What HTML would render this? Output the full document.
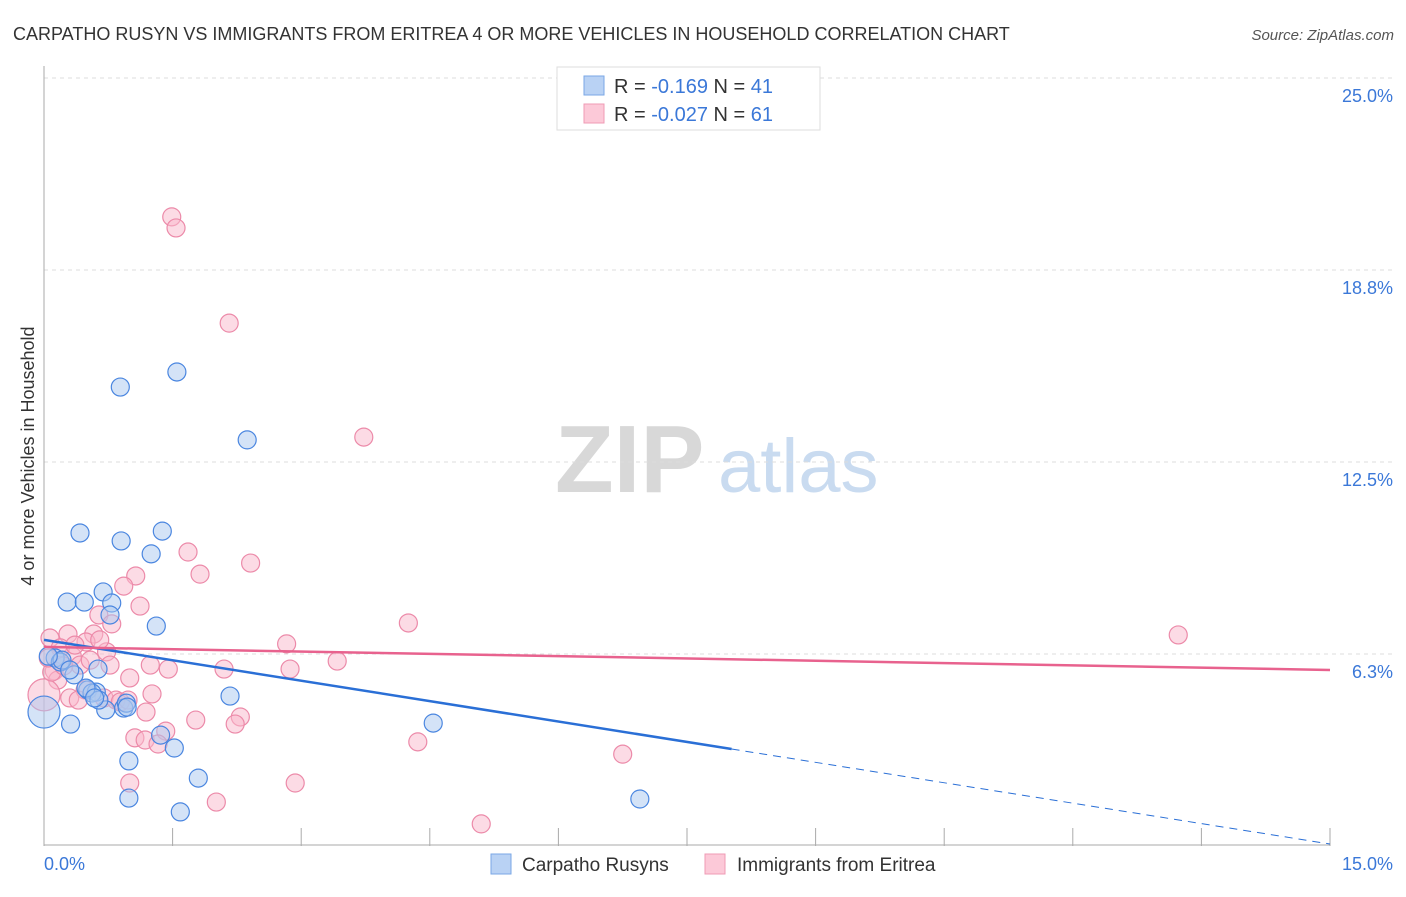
<!DOCTYPE html>
<html><head><meta charset="utf-8">
<style>
body{margin:0;background:#fff;font-family:"Liberation Sans",sans-serif;}
svg text{font-family:"Liberation Sans",sans-serif;}
</style></head>
<body>
<svg id="chart" width="1406" height="892" viewBox="0 0 1406 892" xmlns="http://www.w3.org/2000/svg">
<text x="13" y="40" font-size="18" fill="#333">CARPATHO RUSYN VS IMMIGRANTS FROM ERITREA 4 OR MORE VEHICLES IN HOUSEHOLD CORRELATION CHART</text>
<text x="1394" y="40" font-size="15" fill="#555" text-anchor="end" font-style="italic">Source: ZipAtlas.com</text>
<g>
<text x="555" y="492" font-size="96" fill="#d8d8d8" font-family="Liberation Serif" font-weight="bold">ZIP</text>
<text x="718" y="492" font-size="76" fill="#c9dbf0">atlas</text>
</g>
<g id="grid"></g>
<g id="axes"></g>
<g id="marks"></g>
<text transform="translate(34,456) rotate(-90)" font-size="18" fill="#333" text-anchor="middle">4 or more Vehicles in Household</text>
<g>
<rect x="557" y="67" width="263" height="63" fill="#fff" stroke="#ddd"/>
<rect x="584" y="76" width="20" height="19" fill="#b9d2f4" stroke="#7aa7e6"/>
<rect x="584" y="104" width="20" height="19" fill="#fcc9d8" stroke="#ef9bb5"/>
<text x="614" y="93" font-size="20" fill="#333">R = <tspan fill="#3b78d8">-0.169</tspan>   N = <tspan fill="#3b78d8">41</tspan></text>
<text x="614" y="121" font-size="20" fill="#333">R = <tspan fill="#3b78d8">-0.027</tspan>   N = <tspan fill="#3b78d8">61</tspan></text>
</g>
<g>
<rect x="491" y="854" width="20" height="20" fill="#b9d2f4" stroke="#7aa7e6"/>
<text x="522" y="871" font-size="19" fill="#333">Carpatho Rusyns</text>
<rect x="705" y="854" width="20" height="20" fill="#fcc9d8" stroke="#ef9bb5"/>
<text x="737" y="871" font-size="19" fill="#333">Immigrants from Eritrea</text>
</g>
</svg>
<script>
const blueX=[0,0.13,0.19,0.27,0.47,0.42,0.31,0.35,0.51,0.61,0.63,0.69,0.72,0.79,0.77,0.89,0.90,0.93,0.96,0.99,0.99,1.25,1.31,1.38,1.36,1.52,1.55,1.59,1.80,2.17,2.37,4.54,6.95,0.56,0.21,0.64,0.49,0.05,0.30,0.59,0.97];
const blueY=[4.36,6.12,5.99,7.94,7.94,10.19,3.97,5.57,5.08,5.01,5.76,8.27,4.43,7.91,7.52,14.94,9.93,4.49,4.65,2.77,1.56,9.51,7.16,10.25,3.61,3.19,15.43,1.11,2.21,4.88,13.22,4.00,1.53,4.98,6.05,4.75,5.14,6.18,5.73,4.82,4.52];
const pinkX=[1.49,1.54,2.16,3.73,13.23,4.25,2.83,3.42,2.87,2.41,1.68,1.82,1.07,0.93,1.12,0.64,0.79,0.58,0.28,0.07,0.49,0.73,0.33,0.42,0.12,0.16,1.00,1.24,1.45,2.10,1.26,0.30,0.70,0.84,0.89,1.19,1.77,2.29,2.23,1.42,1.06,1.18,1.33,4.36,6.75,1.00,2.93,2.01,5.10,0,0.09,0.19,0.54,0.36,0.23,0.77,0.48,0.05,0.98,0.40,0.65];
const pinkY=[20.48,20.12,17.02,13.31,6.87,7.26,6.58,6.02,5.76,9.21,9.57,8.85,8.79,8.46,7.81,7.52,7.23,6.90,6.90,6.77,6.64,6.32,6.18,5.89,5.70,5.40,5.47,5.89,5.76,5.76,4.95,4.82,4.82,4.75,4.69,4.36,4.10,4.20,3.97,3.74,3.52,3.45,3.32,3.39,2.99,2.05,2.05,1.43,0.72,4.92,5.66,6.45,6.05,6.54,5.86,5.89,5.08,6.12,4.75,4.75,6.71];
const yTicks=[6.25,12.5,18.75,25];
const yTickLabels=["6.3%","12.5%","18.8%","25.0%"];
const xTickCount=10;
const blueTrend=[6.71,-0.443];
const pinkTrend=[6.48,-0.05];

const NS="http://www.w3.org/2000/svg";
const X0=44,X1=1330,Y0=846,YTOP=78;
const sx=v=>X0+v/15*(X1-X0);
const sy=v=>Y0-v/25*(Y0-YTOP);
function mk(tag,attrs,parent){const e=document.createElementNS(NS,tag);for(const k in attrs)e.setAttribute(k,attrs[k]);parent.appendChild(e);return e;}
const grid=document.getElementById('grid'),axes=document.getElementById('axes'),marks=document.getElementById('marks');
yTicks.forEach((t,i)=>{
  const l=mk('line',{x1:X0,x2:1393,y1:sy(t),y2:sy(t),stroke:'#ddd','stroke-dasharray':'4,4'},grid);
  
  
  const tx=mk('text',{x:1393,y:sy(t)+24,'font-size':18,fill:'#3b78d8','text-anchor':'end'},axes);
  tx.textContent=yTickLabels[i];
  
  
});
const ya=mk('line',{x1:X0,x2:X0,y1:66,y2:846,stroke:'#aaa'},axes);


const xa=mk('line',{x1:X0,x2:X1,y1:845,y2:845,stroke:'#aaa'},axes);


for(let i=0;i<=xTickCount;i++){
  const t=mk('line',{x1:sx(i*1.5),x2:sx(i*1.5),y1:828,y2:846,stroke:'#aaa'},axes);
  
  
}
const xl0=mk('text',{x:44,y:870,'font-size':18,fill:'#3b78d8'},axes);xl0.textContent='0.0%';


const xl1=mk('text',{x:1393,y:870,'font-size':18,fill:'#3b78d8','text-anchor':'end'},axes);xl1.textContent='15.0%';



function dots(xs,ys,fill,stroke,name){
  xs.forEach((x,i)=>{
    const r=x===0?16:9;
    const c=mk('circle',{cx:sx(x),cy:sy(ys[i]),r:r,fill:fill,'fill-opacity':0.5,stroke:stroke,'stroke-width':1.2},marks);
    
    
  });
}
dots(pinkX,pinkY,'#f9b7cb','#ec8aa9','eritrea-point');
dots(blueX,blueY,'#a9c8f0','#4a86e0','carpatho-point');
const bEnd=8.02;
const bl=mk('line',{x1:sx(0),y1:sy(blueTrend[0]),x2:sx(bEnd),y2:sy(blueTrend[0]+blueTrend[1]*bEnd),stroke:'#2a6fd6','stroke-width':2.5},marks);


const bd=mk('line',{x1:sx(bEnd),y1:sy(blueTrend[0]+blueTrend[1]*bEnd),x2:sx(15),y2:sy(blueTrend[0]+blueTrend[1]*15),stroke:'#2a6fd6','stroke-width':1,'stroke-dasharray':'8,6'},marks);


const pl=mk('line',{x1:sx(0),y1:sy(pinkTrend[0]),x2:sx(15),y2:sy(pinkTrend[0]+pinkTrend[1]*15),stroke:'#e8628e','stroke-width':2.5},marks);


</script>
</body></html>
